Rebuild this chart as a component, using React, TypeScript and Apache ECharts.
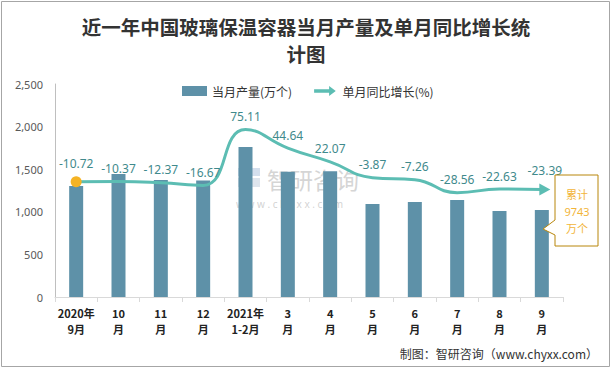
import React, { useEffect, useRef } from "react";
import * as echarts from "echarts";

const categories = ["2020年\n9月", "10\n月", "11\n月", "12\n月", "2021年\n1-2月", "3\n月", "4\n月", "5\n月", "6\n月", "7\n月", "8\n月", "9\n月"];
const output = [1303, 1444, 1373, 1366, 1761, 1471, 1476, 1092, 1115, 1138, 1009, 1021];
const growth = [-10.72, -10.37, -12.37, -16.67, 75.11, 44.64, 22.07, -3.87, -7.26, -28.56, -22.63, -23.39];
const yTicks = [0, 500, 1000, 1500, 2000, 2500];
const titleLines = ["近一年中国玻璃保温容器当月产量及单月同比增长统", "计图"];
const barName = "当月产量(万个)";
const lineName = "单月同比增长(%)";
const totalLabel = ["累计", "9743", "万个"];
const sourceText = "制图：智研咨询（www.chyxx.com）";

const BAR = "#5e91a8";
const LINE = "#5cbdb3";

export default function App() {
  const ref = useRef<HTMLDivElement>(null);
  useEffect(() => {
    const chart = echarts.init(ref.current!, null, { renderer: "svg" });
    const lineData = growth.map((v, i) => {
      if (i === 0) return { value: v, symbol: "circle", symbolSize: 11, itemStyle: { color: "#f5b324" } };
      if (i === growth.length - 1)
        return { value: v, symbol: "triangle", symbolSize: [12, 11], symbolRotate: -90, symbolOffset: [3, 0], itemStyle: { color: LINE } };
      return { value: v, symbol: "circle", symbolSize: 0.1 };
    });
    const titleStyle = { fontFamily: "Noto Sans CJK SC", fontSize: 19.5, fontWeight: "bold", fill: "#333", align: "center", verticalAlign: "middle", lineHeight: 20 };
    chart.setOption({
      animation: false,
      legend: {
        left: 177,
        top: 80,
        itemWidth: 25,
        itemHeight: 10,
        itemGap: 22,
        textStyle: { fontFamily: "Noto Sans CJK SC", fontSize: 12, color: "#333" },
        data: [
          { name: barName, icon: "rect" },
          { name: lineName, icon: "path://M0,4 L18,4 L18,0 L26,6 L18,12 L18,8 L0,8 Z", itemStyle: { color: LINE } },
        ],
      },
      grid: { left: 55, right: 49, top: 84, bottom: 72 },
      xAxis: {
        type: "category",
        data: categories,
        axisLine: { lineStyle: { color: "#d9d9d9" } },
        axisTick: { show: true, length: 5, lineStyle: { color: "#d9d9d9" } },
        axisLabel: { color: "#222", fontWeight: "bold", fontSize: 11, lineHeight: 16, margin: 8, fontFamily: "Noto Sans CJK SC", interval: 0 },
      },
      yAxis: [
        {
          type: "value",
          min: yTicks[0],
          max: yTicks[yTicks.length - 1],
          interval: 500,
          splitLine: { show: false },
          axisLine: { show: true, lineStyle: { color: "#bfbfbf" } },
          axisTick: { show: false },
          axisLabel: {
            color: "#595959",
            fontSize: 11,
            fontFamily: "Noto Sans",
            margin: 12,
            formatter: (v: number) => v.toLocaleString("en-US"),
          },
        },
        { type: "value", min: -200, max: 150, show: false, splitLine: { show: false } },
      ],
      series: [
        {
          name: barName,
          type: "bar",
          data: output,
          barWidth: 14,
          itemStyle: { color: BAR },
        },
        {
          name: lineName,
          type: "line",
          yAxisIndex: 1,
          smooth: 0.5,
          data: lineData,
          lineStyle: { color: LINE, width: 3 },
          itemStyle: { color: LINE },
          label: { show: true, position: "top", distance: 7, color: "#3f8a8c", fontSize: 12, fontFamily: "Noto Sans" },
          z: 5,
        },
      ],
      graphic: [
        { type: "rect", shape: { x: 1.5, y: 1.5, width: 608, height: 365 }, style: { fill: "none", stroke: "#a6a6a6", lineWidth: 1 }, silent: true },
        { type: "text", x: 306, y: 26, style: { text: titleLines[0], ...titleStyle } },
        { type: "text", x: 306, y: 53, style: { text: titleLines[1], ...titleStyle } },
        // watermark
        { type: "rect", shape: { x: 238, y: 168, width: 10, height: 8 }, style: { fill: "#c9d7e8", opacity: 0.8 }, z: 0 },
        { type: "rect", shape: { x: 250, y: 168, width: 10, height: 8 }, style: { fill: "#c9d7e8", opacity: 0.8 }, z: 0 },
        { type: "rect", shape: { x: 238, y: 178, width: 22, height: 9 }, style: { fill: "#d6dfe8", opacity: 0.8 }, z: 0 },
        { type: "text", x: 267, y: 179, style: { text: "智研咨询", fontSize: 23, fontFamily: "Noto Sans CJK SC", fill: "#c8c8c8", opacity: 0.75, verticalAlign: "middle", lineHeight: 23 }, z: 0 },
        { type: "text", x: 236, y: 204, style: { text: "w w w . c h y x x . c o m", fontSize: 10, fontFamily: "Noto Sans", fill: "#c8c8c8", opacity: 0.8, verticalAlign: "middle", lineHeight: 10 }, z: 0 },
        // callout
        {
          type: "polygon",
          shape: { points: [[555, 175], [598, 175], [598, 246], [555, 246], [555, 235], [543, 229], [555, 220]] },
          style: { fill: "#fff", stroke: "#b8860b", lineWidth: 1 },
          z: 10,
        },
        { type: "text", x: 577, y: 194, style: { text: totalLabel[0], fontSize: 11, fontFamily: "Noto Sans CJK SC", fill: "#f2b53a", align: "center", verticalAlign: "middle", lineHeight: 13 }, z: 11 },
        { type: "text", x: 577, y: 211, style: { text: totalLabel[1], fontSize: 11, fontFamily: "Noto Sans", fill: "#f2b53a", align: "center", verticalAlign: "middle", lineHeight: 13 }, z: 11 },
        { type: "text", x: 577, y: 228, style: { text: totalLabel[2], fontSize: 11, fontFamily: "Noto Sans CJK SC", fill: "#f2b53a", align: "center", verticalAlign: "middle", lineHeight: 13 }, z: 11 },
        // source
        { type: "text", right: 14, top: 347, style: { text: sourceText, fontSize: 12, fontFamily: "Noto Sans CJK SC", fill: "#333" } },
      ],
    });
    return () => chart.dispose();
  }, []);
  return <div ref={ref} style={{ width: 612, height: 369, position: "absolute", left: 0, top: 0 }} />;
}
